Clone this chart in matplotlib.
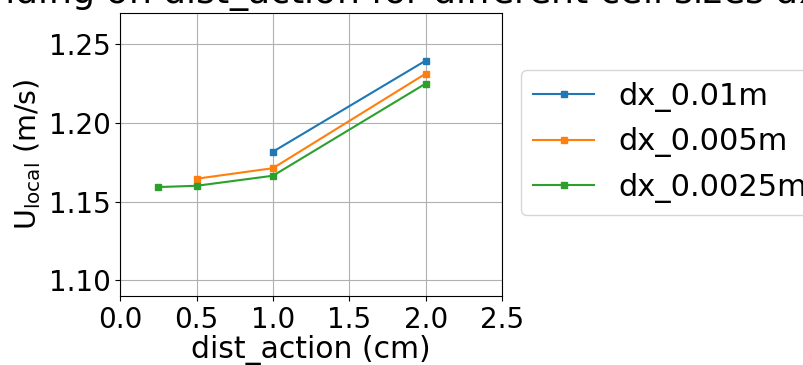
import matplotlib
matplotlib.use("Agg")
import matplotlib.pyplot as plt

# Data
dist_01 = [1.0, 2.0]
u_01 = [1.1818, 1.2397]

dist_005 = [0.5, 1.0, 2.0]
u_005 = [1.1646, 1.1713, 1.2314]

dist_0025 = [0.25, 0.5, 1.0, 2.0]
u_0025 = [1.1593, 1.1601, 1.1665, 1.2251]

labels = ["dx_0.01m", "dx_0.005m", "dx_0.0025m"]
xticks = [0.0, 0.5, 1.0, 1.5, 2.0, 2.5]
yticks = [1.10, 1.15, 1.20, 1.25]

plt.rcParams["font.size"] = 20

W, H = 804, 365
fig = plt.figure(figsize=(W / 100, H / 100), dpi=100)
ax = fig.add_axes([120.3 / W, (H - 296) / H, 381.7 / W, 283 / H])

ax.plot(dist_01, u_01, marker="s", markersize=5, label=labels[0])
ax.plot(dist_005, u_005, marker="s", markersize=5, label=labels[1])
ax.plot(dist_0025, u_0025, marker="s", markersize=5, label=labels[2])

ax.set_xlim(0, 2.5)
ax.set_ylim(1.09, 1.27)
ax.set_xticks(xticks)
ax.set_yticks(yticks)
ax.tick_params(labelsize=20)
ax.set_xlabel("dist_action (cm)", fontsize=21.5, labelpad=1)
ax.set_ylabel("U$_{\\mathrm{local}}$ (m/s)", fontsize=20.5)
ax.set_title("U$_{\\mathrm{local}}$ depending on dist_action for different cell sizes dx", fontsize=26.2)
ax.grid(True)

ax.legend(loc="upper left", bbox_to_anchor=(1.05, 0.799), borderaxespad=0, fontsize=22)

fig.savefig("out.png", dpi=100)
